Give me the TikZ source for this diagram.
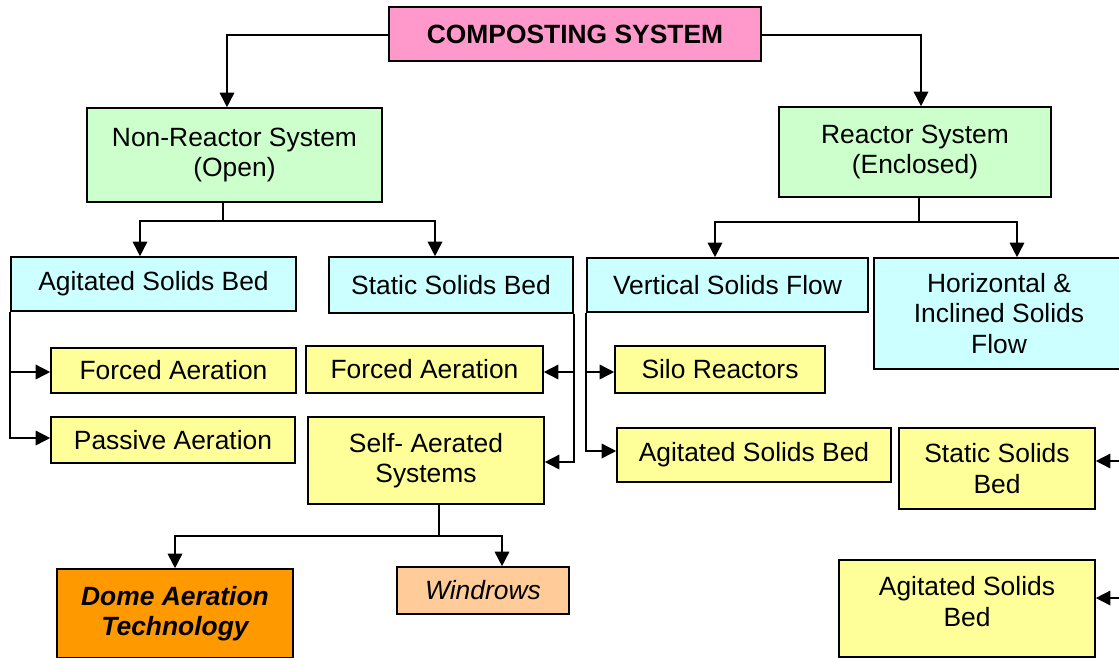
\documentclass[tikz,border=0pt]{standalone}
\usepackage{fontspec}
\setmainfont{Liberation Sans}
\usetikzlibrary{arrows.meta}

\definecolor{rootpink}{HTML}{FF99CC}
\definecolor{sysgreen}{HTML}{CCFFCC}
\definecolor{flowcyan}{HTML}{CCFFFF}
\definecolor{leafyellow}{HTML}{FFFF99}
\definecolor{domeorange}{HTML}{FF9900}
\definecolor{rowpeach}{HTML}{FFCC99}

\tikzset{
  box/.style={draw=black, line width=1.6pt, rectangle, inner sep=0pt,
    align=center, font=\fontsize{26.4}{30.5}\selectfont},
  root/.style={box, fill=rootpink, font=\fontsize{26.4}{30.5}\selectfont\bfseries},
  sysbox/.style={box, fill=sysgreen},
  flowbox/.style={box, fill=flowcyan},
  leafbox/.style={box, fill=leafyellow},
  domebox/.style={box, fill=domeorange, font=\fontsize{26.4}{30.5}\selectfont\bfseries\itshape},
  rowbox/.style={box, fill=rowpeach, font=\fontsize{26.4}{30.5}\selectfont\itshape},
  link/.style={line width=1.6pt, -{Triangle[length=14.5pt,width=14.5pt]}},
  plain/.style={line width=1.6pt}
}

\begin{document}
\begin{tikzpicture}[x=1pt, y=-1pt]
\useasboundingbox (0,0) rectangle (1119,657);
\fill[white] (0,0) rectangle (1119,657);

% root
\node[root, minimum width=372pt, minimum height=54pt] (top) at (575,34) {COMPOSTING SYSTEM};

% systems
\node[sysbox, minimum width=295pt, minimum height=94pt] (nonr) at (234.5,155) {Non-Reactor System\\(Open)};
\node[sysbox, minimum width=272pt, minimum height=90pt] (reac) at (915,152) {Reactor System\\(Enclosed)};

% solids flow classes
\node[flowbox, minimum width=285pt, minimum height=54pt] (asb) at (153.5,284) {Agitated Solids Bed};
\node[flowbox, minimum width=244pt, minimum height=56pt] (ssb) at (451,285) {Static Solids Bed};
\node[flowbox, minimum width=281pt, minimum height=54pt] (vsf) at (727.5,285) {Vertical Solids Flow};
\node[flowbox, minimum width=250pt, minimum height=111pt] (hisf) at (999,313.5) {Horizontal \&\\Inclined Solids\\Flow};

% aeration / reactor types
\node[leafbox, minimum width=245pt, minimum height=45pt] (fa1) at (173.5,370.5) {Forced Aeration};
\node[leafbox, minimum width=244pt, minimum height=46pt] (pa) at (173,440) {Passive Aeration};
\node[leafbox, minimum width=237pt, minimum height=47pt] (fa2) at (424.5,369.5) {Forced Aeration};
\node[leafbox, minimum width=236pt, minimum height=87pt] (sas) at (426,460.5) {Self- Aerated\\Systems};
\node[leafbox, minimum width=210pt, minimum height=47pt] (silo) at (720,369.5) {Silo Reactors};
\node[leafbox, minimum width=274pt, minimum height=54pt] (asb2) at (754,455) {Agitated Solids Bed};
\node[leafbox, minimum width=196pt, minimum height=81pt] (ssb2) at (997,468.5) {Static Solids\\Bed};
\node[leafbox, minimum width=256pt, minimum height=97pt] (asb3) at (967,608.5) {Agitated Solids\\Bed\rule[-14pt]{0pt}{14pt}};

% self-aerated variants
\node[domebox, minimum width=236pt, minimum height=89pt] (dome) at (175,613.5) {Dome Aeration\\Technology};
\node[rowbox, minimum width=172pt, minimum height=47pt] (wind) at (483,590.5) {Windrows};

% root to systems
\draw[link] ([yshift=-1pt]top.west) -| ([xshift=-7.5pt]nonr.north);
\draw[link] ([yshift=-1pt]top.east) -| ([xshift=6pt]reac.north);

% non-reactor branch
\draw[plain] ([xshift=-11.5pt]nonr.south) -- ++(0,18) coordinate (jn);
\draw[link] (jn) -| ([xshift=-13.5pt]asb.north);
\draw[link] (jn) -| ([xshift=-16pt]ssb.north);

% reactor branch
\draw[plain] ([xshift=4pt]reac.south) -- ++(0,24) coordinate (jr);
\draw[link] (jr) -| ([xshift=-12.5pt]vsf.north);
\draw[link] (jr) -| ([xshift=18pt]hisf.north);

% agitated solids bed (open)
\draw[link] (asb.south west) |- ([yshift=-1.5pt]fa1.west);
\draw[link] (asb.south west) |- ([yshift=2pt]pa.west);

% static solids bed (open)
\draw[link] (ssb.south east) |- ([yshift=-2.5pt]fa2.east);
\draw[link] (ssb.south east) |- ([yshift=-1.5pt]sas.east);

% vertical solids flow
\draw[link] (vsf.south west) |- ([yshift=-2.5pt]silo.west);
\draw[link] (vsf.south west) |- ([yshift=4pt]asb2.west);

% feeds entering from the right
\coordinate (inA) at (1126,461);
\coordinate (inB) at (1126,598);
\draw[link] (inA) -- (inA -| ssb2.east);
\draw[link] (inB) -- (inB -| asb3.east);

% self-aerated systems
\draw[plain] ([xshift=13pt]sas.south) -- ++(0,31) coordinate (js);
\draw[link] (js) -| (dome.north);
\draw[link] (js) -| ([xshift=19pt]wind.north);
\end{tikzpicture}
\end{document}
